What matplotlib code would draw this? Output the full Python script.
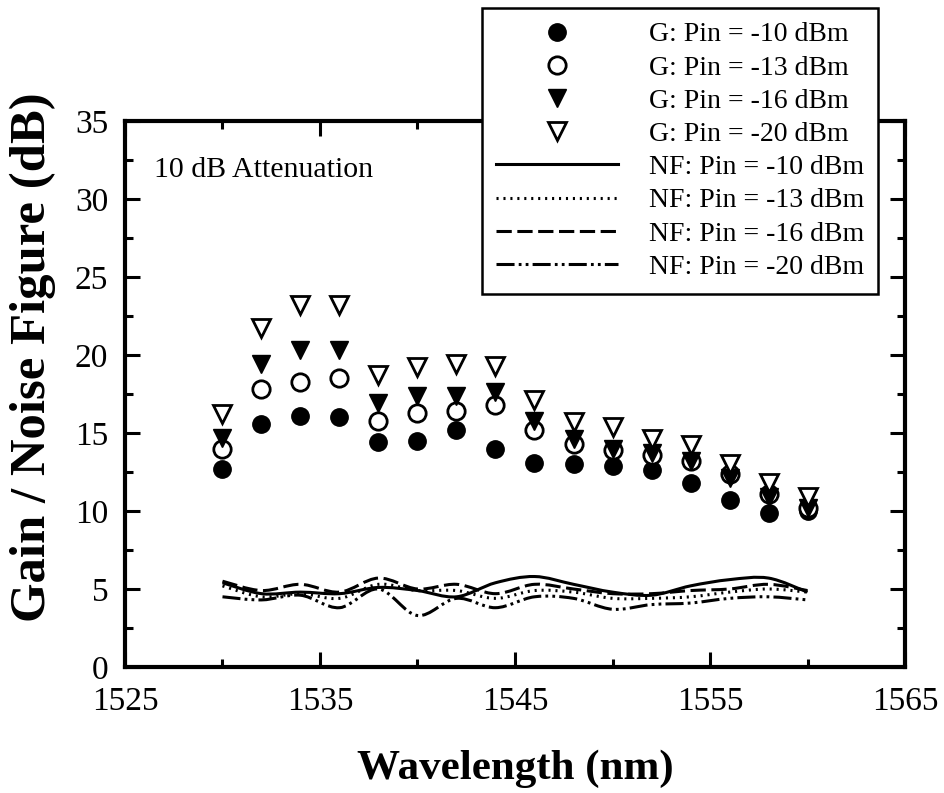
import numpy as np
import matplotlib.pyplot as plt
from matplotlib.path import Path
from matplotlib.patches import PathPatch
from matplotlib.lines import Line2D

plt.rcParams['font.family'] = ['Liberation Serif', 'DejaVu Serif']
plt.rcParams['lines.scale_dashes'] = False

wavelength = np.arange(1530, 1561, 2)

# gain (dB) for each input power
gain_10 = [12.7, 15.6, 16.1, 16.0, 14.4, 14.5, 15.2, 14.0, 13.1, 13.0, 12.9, 12.6, 11.8, 10.7, 9.9, 10.0]
gain_13 = [14.0, 17.8, 18.3, 18.5, 15.8, 16.3, 16.4, 16.8, 15.2, 14.3, 13.9, 13.6, 13.2, 12.4, 11.1, 10.2]
gain_16 = [14.7, 19.4, 20.3, 20.3, 16.9, 17.4, 17.4, 17.6, 15.8, 14.6, 14.0, 13.7, 13.2, 12.1, 10.9, 10.2]
gain_20 = [16.2, 21.7, 23.2, 23.2, 18.7, 19.2, 19.4, 19.3, 17.1, 15.7, 15.4, 14.6, 14.2, 13.0, 11.8, 10.9]

# noise figure (dB) for each input power
nf_10 = [5.4, 4.7, 4.8, 4.7, 5.1, 4.9, 4.5, 5.4, 5.8, 5.3, 4.8, 4.6, 5.2, 5.6, 5.7, 4.8]
nf_13 = [5.2, 4.5, 4.7, 4.4, 5.3, 4.9, 4.9, 4.4, 4.9, 4.8, 4.4, 4.4, 4.5, 4.8, 5.0, 4.8]
nf_16 = [5.5, 4.9, 5.3, 4.8, 5.7, 5.0, 5.3, 4.7, 5.3, 5.0, 4.7, 4.7, 4.9, 5.0, 5.3, 4.9]
nf_20 = [4.5, 4.3, 4.6, 3.8, 5.0, 3.3, 4.4, 3.8, 4.5, 4.4, 3.7, 4.0, 4.1, 4.4, 4.5, 4.3]

gain_labels = ['G: Pin = -10 dBm', 'G: Pin = -13 dBm', 'G: Pin = -16 dBm', 'G: Pin = -20 dBm']
nf_labels = ['NF: Pin = -10 dBm', 'NF: Pin = -13 dBm', 'NF: Pin = -16 dBm', 'NF: Pin = -20 dBm']


def smooth_path(x, y):
    # Catmull-Rom curve through the points, written as cubic Bezier segments
    p = np.column_stack([x, y]).astype(float)
    ext = np.vstack([p[0], p, p[-1]])
    verts = [p[0]]
    codes = [Path.MOVETO]
    for i in range(len(p) - 1):
        p0, p1, p2, p3 = ext[i], ext[i + 1], ext[i + 2], ext[i + 3]
        verts += [p1 + (p2 - p0) / 6, p2 - (p3 - p1) / 6, p2]
        codes += [Path.CURVE4] * 3
    return Path(verts, codes)


fig = plt.figure(figsize=(9.44, 7.93), dpi=100)
ax = fig.add_axes([0.1324, 0.1589, 0.8263, 0.6885])

ms = 12.5
ax.plot(wavelength, gain_10, 'o', ms=ms, color='black', zorder=3)
ax.plot(wavelength, gain_13, 'o', ms=ms, mfc='white', mec='black', mew=2, zorder=3)
ax.plot(wavelength, gain_16, 'v', ms=ms + 1, color='black', zorder=3)
ax.plot(wavelength, gain_20, 'v', ms=ms + 1, mfc='white', mec='black', mew=2, zorder=3)

styles = ['-', (0, (1.5, 3.5)), (0, (11, 4)), (0, (13, 3, 2, 3, 2, 3))]
for vals, ls in zip([nf_10, nf_13, nf_16, nf_20], styles):
    ax.add_patch(PathPatch(smooth_path(wavelength, vals), fill=False,
                           edgecolor='black', lw=2.2, linestyle=ls))

ax.set_xlim(1525, 1565)
ax.set_ylim(0, 35)
ax.set_xticks([1525, 1535, 1545, 1555, 1565])
ax.set_xticks([1530, 1540, 1550, 1560], minor=True)
ax.set_yticks(np.arange(0, 36, 5))
ax.set_yticks(np.arange(2.5, 35, 5), minor=True)
ax.tick_params(which='both', direction='in', top=True, right=True, width=2.2, labelsize=24)
ax.tick_params(which='major', length=11)
ax.tick_params(which='minor', length=6)
ax.tick_params(axis='x', pad=14)
ax.tick_params(axis='y', pad=12)
for s in ax.spines.values():
    s.set_linewidth(3)

ax.set_xlabel('Wavelength (nm)', fontsize=31, fontweight='bold')
ax.xaxis.set_label_coords(0.5, -0.152)
ax.xaxis.label.set_va('top')
ax.set_ylabel('Gain / Noise Figure (dB)', fontsize=36.5, fontweight='bold')
ax.yaxis.set_label_coords(-0.118, 0.568)
ax.yaxis.label.set_va('center')

ax.text(0.037, 0.91, '10 dB Attenuation', transform=ax.transAxes, fontsize=21.5, va='center')

handles = [
    Line2D([], [], ls='none', marker='o', ms=ms, color='black'),
    Line2D([], [], ls='none', marker='o', ms=ms, mfc='white', mec='black', mew=2),
    Line2D([], [], ls='none', marker='v', ms=ms + 1, color='black'),
    Line2D([], [], ls='none', marker='v', ms=ms + 1, mfc='white', mec='black', mew=2),
]
for ls in styles:
    handles.append(Line2D([], [], color='black', lw=2.2, ls=ls))

leg = fig.legend(handles, gain_labels + nf_labels, loc='upper right',
                 bbox_to_anchor=(878 / 944, 1 - 8 / 793), fontsize=20,
                 frameon=True, fancybox=False, edgecolor='black', framealpha=1,
                 handlelength=4.4, handletextpad=1.1, labelspacing=0.28,
                 borderpad=0.5, borderaxespad=0)
leg.get_frame().set_linewidth(1.8)

fig.savefig('out.png', dpi=100)
